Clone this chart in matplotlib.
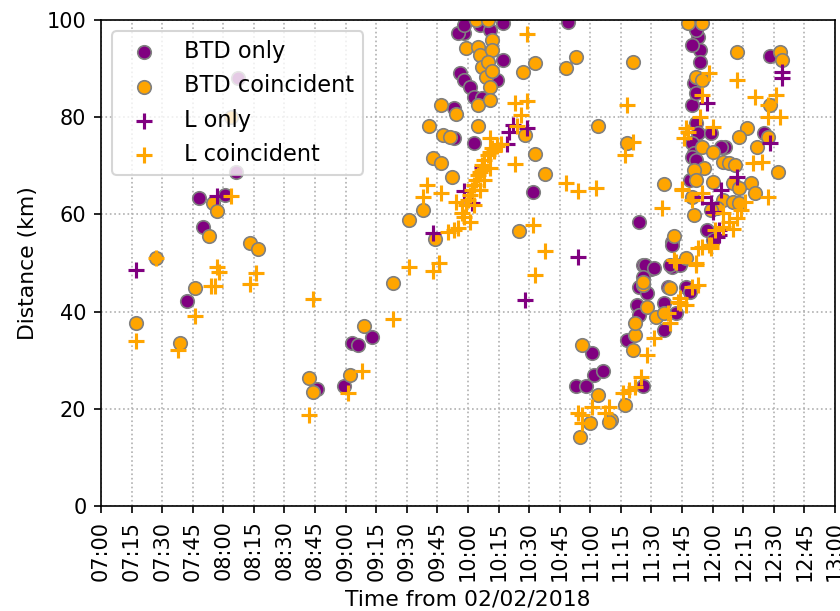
import numpy as np
import pandas as pd
import matplotlib
matplotlib.use('Agg')
import matplotlib.pyplot as plt
import matplotlib.dates as mdates

day = '2018-02-02 '

# BTD only (purple circles)
btd_only_t = ['07:42', '07:48', '07:50', '08:01', '08:06', '08:07', '08:46', '08:59', '09:03', '09:06',
              '09:13', '09:53', '09:53', '10:03', '09:56', '09:58', '10:01', '10:03', '10:07', '10:14',
              '10:17', '09:58', '09:55', '09:58', '10:17', '10:06', '10:11', '10:32', '10:49', '10:53',
              '10:58', '11:01', '11:02', '11:06', '11:18', '11:23', '11:24', '11:26', '11:24', '11:26',
              '11:30', '11:24', '11:28', '11:27', '11:31', '11:26', '11:36', '11:36', '11:42', '11:40',
              '11:39', '11:44', '11:38', '11:47', '11:49', '11:40', '11:40', '11:57', '11:50', '11:51',
              '11:53', '11:54', '11:54', '11:50', '11:52', '11:53', '11:50', '11:51', '11:59', '12:06',
              '12:25', '12:28', '11:51', '11:52', '11:50', '11:52', '11:49', '12:04', '12:00', '11:52']
btd_only_d = [42.2, 63.4, 57.4, 64.0, 68.7, 88.0, 24.0, 24.7, 33.5, 33.1,
              34.8, 75.7, 81.9, 74.7, 89.0, 87.6, 86.2, 84.2, 83.9, 87.6,
              91.8, 97.3, 97.3, 99.0, 99.4, 99.0, 98.0, 64.6, 99.6, 24.7,
              24.7, 31.5, 27.0, 27.8, 34.2, 41.4, 39.3, 24.7, 58.4, 49.6,
              48.8, 45.0, 43.8, 49.6, 49.0, 47.1, 36.2, 41.8, 39.7, 49.2,
              49.6, 49.6, 45.0, 45.0, 44.0, 54.3, 53.7, 56.8, 82.5, 87.0,
              96.5, 93.8, 91.4, 94.9, 78.8, 76.7, 74.7, 72.6, 76.7, 73.9,
              76.7, 92.6, 100.0, 98.0, 71.8, 71.2, 67.0, 73.9, 54.7, 85.0]

# BTD coincident (orange circles)
btd_coin_t = ['07:17', '07:27', '07:39', '07:46', '07:55', '07:57', '07:53', '08:04', '08:13', '08:17',
              '08:42', '08:44', '09:02', '09:09', '09:23', '09:31', '09:38', '09:44', '09:43', '09:47',
              '09:52', '09:41', '09:48', '09:51', '10:05', '09:47', '09:54', '10:05', '09:59', '10:05',
              '10:06', '10:07', '10:09', '10:11', '10:12', '10:12', '10:10', '10:04', '10:10', '10:12',
              '10:11', '10:25', '10:28', '10:27', '10:33', '10:33', '10:38', '10:48', '10:53', '11:04',
              '11:21', '11:18', '11:36', '10:56', '11:04', '11:00', '10:55', '11:10', '11:09', '11:17',
              '11:21', '11:22', '11:22', '11:28', '11:26', '11:32', '11:26', '11:39', '11:41', '11:47',
              '11:36', '11:48', '11:55', '11:52', '11:55', '11:55', '12:00', '11:56', '11:51', '12:05',
              '12:08', '12:11', '12:17', '12:13', '12:22', '12:27', '12:32', '11:52', '12:00', '11:50',
              '11:51', '12:12', '12:33', '12:34', '12:28', '12:10', '12:19', '12:13', '12:21', '12:05',
              '12:10', '12:13', '12:02', '11:59']
btd_coin_d = [37.6, 51.0, 33.5, 44.9, 62.3, 60.7, 55.6, 80.0, 54.1, 52.9,
              26.3, 23.5, 27.0, 37.0, 45.9, 58.8, 61.0, 54.9, 71.6, 70.6,
              67.7, 78.2, 76.3, 75.9, 78.2, 82.5, 80.7, 82.5, 94.2, 94.5,
              92.8, 90.3, 88.3, 86.2, 95.9, 93.8, 91.4, 100.0, 100.0, 89.5,
              83.5, 56.6, 76.3, 89.3, 91.2, 72.4, 68.3, 90.1, 92.4, 78.2,
              91.4, 74.7, 66.3, 33.1, 22.8, 17.1, 14.2, 17.7, 17.3, 20.8,
              32.1, 35.2, 37.7, 41.0, 45.5, 38.9, 46.1, 44.9, 55.6, 51.0,
              39.7, 99.4, 99.4, 88.3, 87.7, 73.9, 72.8, 69.5, 69.1, 70.8,
              70.6, 70.2, 77.8, 75.9, 73.9, 75.9, 68.7, 67.1, 66.7, 63.6,
              59.9, 93.4, 93.4, 91.8, 82.5, 66.5, 66.5, 65.4, 64.4, 63.0,
              62.6, 62.3, 61.3, 60.9]

# L only (purple plus)
l_only_t = ['07:17', '07:57', '09:43', '09:58', '10:02', '10:07', '10:20', '10:22', '10:29', '10:19',
            '10:28', '10:54', '11:57', '12:34', '12:34', '12:28', '12:12', '12:04', '11:55', '11:59',
            '12:00', '12:03', '12:02', '12:03']
l_only_d = [48.5, 63.8, 56.1, 64.8, 62.3, 69.8, 77.0, 78.4, 77.8, 74.5,
            42.4, 51.2, 82.9, 89.3, 88.0, 74.7, 67.7, 65.0, 63.6, 62.3,
            60.5, 56.8, 55.3, 55.8]

# L coincident (orange plus)
l_coin_t = ['07:17', '07:27', '07:38', '07:46', '07:54', '07:56', '07:57', '07:58', '08:04', '08:13',
            '08:16', '08:42', '08:44', '09:01', '09:08', '09:23', '09:31', '09:43', '09:46', '09:50',
            '09:53', '09:40', '09:47', '09:54', '09:38',
            '09:55', '09:57', '09:58', '09:59', '10:00', '10:01', '10:02', '10:03', '10:04', '10:05',
            '10:06', '10:07', '10:07', '10:08', '10:10', '10:11', '10:12', '10:13', '10:14', '10:16',
            '10:06', '10:08', '10:01', '10:03', '10:11',
            '10:11', '10:23', '10:24', '10:26', '10:23', '10:29', '10:29', '10:32', '10:38', '10:33',
            '10:48', '10:54', '11:03', '11:18', '11:21', '11:17', '11:35', '11:45', '11:01', '10:54',
            '10:56', '10:56', '11:09', '11:07', '11:16', '11:19', '11:22', '11:25', '11:28', '11:31',
            '11:38', '11:39', '11:43', '11:44', '11:47', '11:50', '11:53', '11:44', '11:52', '11:42',
            '11:41', '11:55', '11:59', '12:01', '12:05', '11:58', '11:53', '11:59', '11:52', '12:12',
            '12:05', '12:08', '11:45', '11:55', '11:50', '12:20', '12:24', '12:27', '12:21', '12:31',
            '12:27', '12:27', '12:33', '12:12', '11:58', '11:55', '11:54', '11:47', '11:46', '12:00',
            '11:48', '12:14', '12:16', '12:10']
l_coin_d = [34.0, 51.0, 32.1, 39.1, 45.3, 45.3, 49.2, 48.1, 63.8, 45.7,
            47.9, 18.7, 42.6, 23.2, 27.8, 38.5, 49.2, 48.4, 50.0, 56.4,
            56.8, 66.0, 64.4, 62.6, 63.6,
            57.2, 60.3, 59.5, 61.9, 63.0, 64.0, 65.0, 66.0, 67.1, 68.1,
            68.7, 69.1, 70.2, 71.2, 72.2, 72.8, 73.7, 73.0, 74.1, 74.5,
            65.0, 67.1, 58.4, 61.9, 69.5,
            75.7, 70.3, 78.2, 80.5, 83.0, 83.3, 97.1, 57.8, 52.5, 47.5,
            66.5, 64.8, 65.4, 82.5, 74.9, 72.2, 61.3, 65.2, 20.4, 19.1,
            18.7, 17.1, 20.4, 19.1, 23.2, 23.9, 24.5, 26.5, 31.0, 34.6,
            39.7, 37.7, 42.0, 42.8, 41.4, 45.0, 45.5, 41.8, 49.6, 50.2,
            50.6, 53.3, 53.7, 56.8, 57.4, 53.7, 53.1, 53.1, 50.0, 59.3,
            60.3, 58.4, 65.0, 64.4, 63.0, 70.6, 70.8, 63.6, 84.2, 84.6,
            82.5, 80.0, 80.0, 87.7, 89.0, 84.6, 80.0, 77.8, 75.7, 78.0,
            77.0, 61.0, 62.5, 57.0]


def to_time(ts):
    return pd.to_datetime([day + t for t in ts])


fig = plt.figure(figsize=(5.6, 611 / 150), dpi=150)
fig.subplots_adjust(left=0.1202, right=0.994, bottom=0.1718, top=0.9673)
ax = fig.add_subplot(111)

ax.scatter(to_time(btd_only_t), btd_only_d, s=42, color='purple', edgecolors='grey',
           linewidths=0.8, label='BTD only', zorder=2)
ax.scatter(to_time(btd_coin_t), btd_coin_d, s=42, color='orange', edgecolors='grey',
           linewidths=0.8, label='BTD coincident', zorder=2)
ax.scatter(to_time(l_only_t), l_only_d, s=60, marker='+', color='purple',
           linewidths=1.5, label='L only', zorder=2)
ax.scatter(to_time(l_coin_t), l_coin_d, s=60, marker='+', color='orange',
           linewidths=1.5, label='L coincident', zorder=2)

ax.set_xlim(pd.Timestamp(day + '07:00'), pd.Timestamp(day + '13:00'))
ax.set_ylim(0, 100)
ax.xaxis.set_major_locator(mdates.MinuteLocator(byminute=[0, 15, 30, 45]))
ax.xaxis.set_major_formatter(mdates.DateFormatter('%H:%M'))
plt.setp(ax.get_xticklabels(), rotation=90)
ax.set_xlabel('Time from 02/02/2018', fontsize=10.5)
ax.set_ylabel('Distance (km)', fontsize=10.5)
ax.grid(True, linestyle=':')
ax.legend(loc='upper left', fontsize=10.8)

fig.savefig('out.png', dpi=150)
